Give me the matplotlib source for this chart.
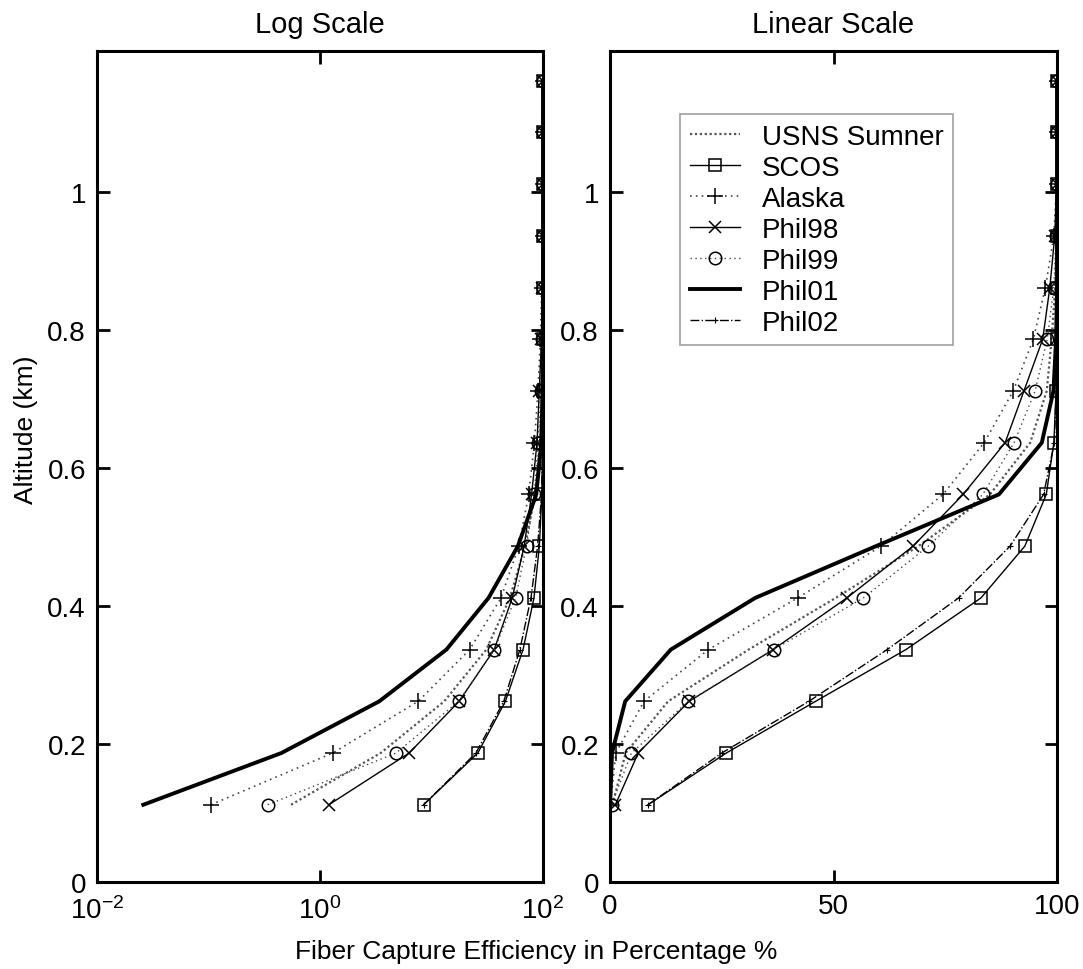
import matplotlib
matplotlib.use("Agg")
import matplotlib.pyplot as plt
from matplotlib.ticker import FixedLocator, FixedFormatter, NullLocator

plt.rcParams['font.family'] = ['Liberation Sans', 'DejaVu Sans']
plt.rcParams['mathtext.fontset'] = 'custom'
plt.rcParams['mathtext.rm'] = 'Liberation Sans'
plt.rcParams['mathtext.it'] = 'Liberation Sans'

# ---- data ----
altitude = [0.112, 0.187, 0.262, 0.337, 0.412, 0.487, 0.562, 0.637,
            0.712, 0.787, 0.862, 0.937, 1.012, 1.087, 1.162]

usns_sumner = [0.55, 3.5, 13.0, 31.0, 50.5, 69.0, 85.0, 94.0, 97.7, 98.8, 99.6, 99.9, 100, 100, 100]
scos = [8.5, 26.0, 46.0, 66.2, 83.0, 92.8, 97.6, 99.3, 99.8, 99.9, 100, 100, 100, 100, 100]
alaska = [0.105, 1.3, 7.6, 22.0, 42.0, 60.6, 74.5, 83.7, 90.2, 94.7, 97.4, 99.3, 99.9, 100, 100]
phil98 = [1.2, 6.3, 17.7, 36.5, 53.0, 67.8, 79.0, 88.4, 92.6, 96.8, 98.4, 99.5, 99.9, 100, 100]
phil99 = [0.34, 4.8, 17.5, 36.6, 56.7, 71.2, 83.4, 90.4, 95.1, 97.8, 99.3, 99.8, 100, 100, 100]
phil01 = [0.026, 0.45, 3.4, 13.6, 32.5, 59.5, 87.0, 96.6, 99.2, 99.8, 100, 100, 100, 100, 100]
phil02 = [8.5, 25.0, 44.5, 62.0, 78.0, 89.5, 97.0, 99.4, 99.8, 100, 100, 100, 100, 100, 100]

series_names = ['USNS Sumner', 'SCOS', 'Alaska', 'Phil98', 'Phil99', 'Phil01', 'Phil02']

ytick_values = [0, 0.2, 0.4, 0.6, 0.8, 1.0]
ytick_labels = ['0', '0.2', '0.4', '0.6', '0.8', '1']
log_xticks = [1e-2, 1e0, 1e2]
log_xtick_labels = [r'$\mathregular{10^{-2}}$', r'$\mathregular{10^{0}}$', r'$\mathregular{10^{2}}$']
lin_xticks = [0, 50, 100]
lin_xtick_labels = ['0', '50', '100']

# ---- styles ----
styles = {
    'USNS Sumner': dict(color='#555555', ls=(0, (1, 1.2)), lw=1.6, marker=None),
    'SCOS': dict(color='black', ls='-', lw=1.0, marker='s', ms=9, mfc='none', mew=1.1),
    'Alaska': dict(color='#444444', ls=(0, (1, 2.5)), lw=1.2, marker='+', ms=11, mew=1.1, mec='black'),
    'Phil98': dict(color='black', ls='-', lw=1.0, marker='x', ms=8, mew=1.1),
    'Phil99': dict(color='#444444', ls=(0, (1, 2.5)), lw=1.0, marker='o', ms=9, mfc='none', mew=1.1, mec='black'),
    'Phil01': dict(color='black', ls='-', lw=2.8, marker=None),
    'Phil02': dict(color='black', ls='-.', lw=1.0, marker='+', ms=5, mew=0.8),
}
data = [usns_sumner, scos, alaska, phil98, phil99, phil01, phil02]

fig = plt.figure(figsize=(10.83, 9.70), dpi=100)
ax1 = fig.add_axes([97/1083, 1-883/970, 446/1083, 831/970])
ax2 = fig.add_axes([610/1083, 1-883/970, 447/1083, 831/970])

for ax in (ax1, ax2):
    for name, vals in zip(series_names, data):
        st = dict(styles[name])
        mk = st.pop('marker')
        ax.plot(vals, altitude, marker=mk, label=name, **st)
    ax.set_ylim(0, 1.205)
    ax.yaxis.set_major_locator(FixedLocator(ytick_values))
    ax.yaxis.set_major_formatter(FixedFormatter(ytick_labels))
    ax.tick_params(direction='in', length=9, width=2, labelsize=20,
                   top=True, right=True, pad=8)
    for sp in ax.spines.values():
        sp.set_linewidth(2.2)

ax1.set_xscale('log')
ax1.set_xlim(1e-2, 1e2)
ax1.xaxis.set_major_locator(FixedLocator(log_xticks))
ax1.xaxis.set_major_formatter(FixedFormatter(log_xtick_labels))
ax1.xaxis.set_minor_locator(NullLocator())
ax1.tick_params(axis='x', pad=10)

ax2.set_xlim(0, 100)
ax2.xaxis.set_major_locator(FixedLocator(lin_xticks))
ax2.xaxis.set_major_formatter(FixedFormatter(lin_xtick_labels))

ax1.set_title('Log Scale', fontsize=21, pad=14)
ax2.set_title('Linear Scale', fontsize=21, pad=14)

fig.text(0.495, 0.019, 'Fiber Capture Efficiency in Percentage %', ha='center', va='center', fontsize=19)
fig.text(0.024, 0.557, 'Altitude (km)', ha='center', va='center', rotation=90, fontsize=19)

leg = ax2.legend(loc='upper left', bbox_to_anchor=(70/447, 1-63/831), fontsize=20,
                 frameon=True, fancybox=False, edgecolor='#888888', handlelength=1.8,
                 handletextpad=0.8, labelspacing=0.18, borderpad=0.35, borderaxespad=0)
leg.get_frame().set_linewidth(1.2)

fig.savefig('out.png', dpi=100)
